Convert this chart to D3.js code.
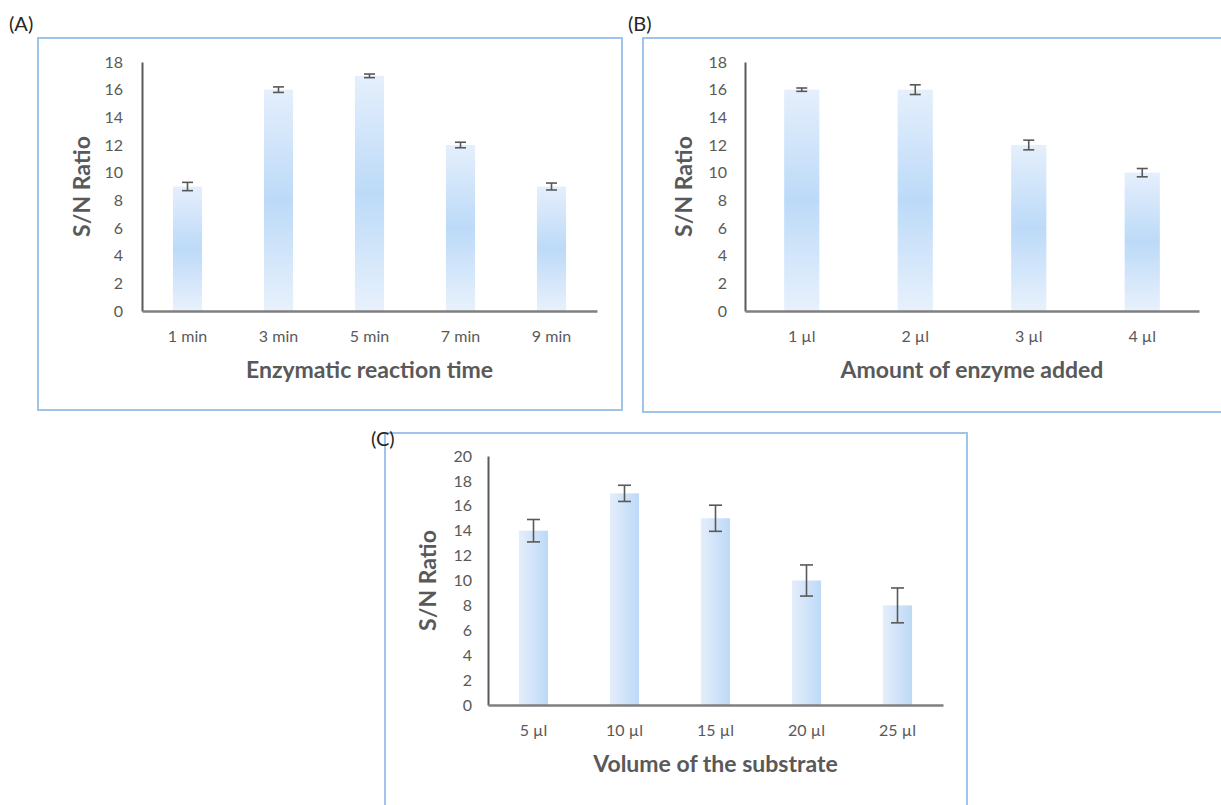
<!DOCTYPE html>
<html>
<head>
<meta charset="utf-8">
<script src="https://cdn.jsdelivr.net/npm/d3@7"></script>
<style>
  body { margin: 0; background: #fff; }
  svg { display: block; }
  .tick text { font-family: Lato, "Open Sans", sans-serif; font-size: 16px; fill: #595959; }
  .axis-title { font-family: Lato, "Open Sans", sans-serif; font-size: 23px; font-weight: bold; fill: #595959; }
  .panel-label { font-family: Lato, "Open Sans", sans-serif; font-size: 20px; fill: #262626; }
</style>
</head>
<body>
<div id="chart-area"></div>
<script>
var width = 1221,
    height = 805;

// data
var timeLabels = ["1 min", "3 min", "5 min", "7 min", "9 min"];
var timeValues = [9, 16, 17, 12, 9];
var timeErrors = [0.3, 0.2, 0.13, 0.2, 0.25];

var enzymeLabels = ["1 µl", "2 µl", "3 µl", "4 µl"];
var enzymeValues = [16, 16, 12, 10];
var enzymeErrors = [0.12, 0.35, 0.35, 0.3];

var substrateLabels = ["5 µl", "10 µl", "15 µl", "20 µl", "25 µl"];
var substrateValues = [14, 17, 15, 10, 8];
var substrateErrors = [0.9, 0.65, 1.05, 1.25, 1.4];

var ticks18 = [0, 2, 4, 6, 8, 10, 12, 14, 16, 18];
var ticks20 = [0, 2, 4, 6, 8, 10, 12, 14, 16, 18, 20];

var svg = d3.select("#chart-area").append("svg")
    .attr("width", width)
    .attr("height", height);

var defs = svg.append("defs");

// vertical gradient: light - blue - light
var gv = defs.append("linearGradient")
    .attr("id", "gradV")
    .attr("x1", 0).attr("y1", 0).attr("x2", 0).attr("y2", 1);
gv.append("stop").attr("offset", "0%").attr("stop-color", "#e5effc");
gv.append("stop").attr("offset", "50%").attr("stop-color", "#bcdaf8");
gv.append("stop").attr("offset", "100%").attr("stop-color", "#e8f1fc");

// horizontal gradient for panel C
var gh = defs.append("linearGradient")
    .attr("id", "gradH")
    .attr("x1", 0).attr("y1", 0).attr("x2", 1).attr("y2", 0);
gh.append("stop").attr("offset", "0%").attr("stop-color", "#e4eefb");
gh.append("stop").attr("offset", "100%").attr("stop-color", "#bdd9f7");

function drawPanel(p) {
  var g = svg.append("g");

  // frame
  g.append("rect")
      .attr("x", p.frame[0]).attr("y", p.frame[1])
      .attr("width", p.frame[2]).attr("height", p.frame[3])
      .attr("fill", "none")
      .attr("stroke", "#9fc4ea")
      .attr("stroke-width", 2);

  g.append("text")
      .attr("class", "panel-label")
      .attr("x", p.labelPos[0]).attr("y", p.labelPos[1])
      .text(p.label);

  var x = d3.scaleBand()
      .domain(p.labels)
      .range([p.left, p.right])
      .paddingInner(p.pad)
      .paddingOuter(p.pad / 2);

  var y = d3.scaleLinear()
      .domain([0, d3.max(p.ticks)])
      .range([p.bottom, p.top]);

  var data = p.labels.map(function(d, i) {
    return { label: d, value: p.values[i], err: p.errors[i] };
  });

  // bars
  g.selectAll(".bar")
      .data(data)
      .enter()
      .append("rect")
      .attr("class", "bar")
      .attr("x", d => x(d.label))
      .attr("width", x.bandwidth())
      .attr("y", d => y(d.value))
      .attr("height", d => y(0) - y(d.value))
      .attr("fill", p.fill);

  // error bars
  var eb = g.selectAll(".err")
      .data(data)
      .enter()
      .append("g")
      .attr("class", "err")
      .style("stroke", "#595959")
      .style("stroke-width", 1.6);
  var cx = d => x(d.label) + x.bandwidth() / 2;
  eb.append("line")
      .attr("x1", cx).attr("x2", cx)
      .attr("y1", d => y(d.value + d.err))
      .attr("y2", d => y(d.value - d.err));
  eb.append("line")
      .attr("x1", d => cx(d) - p.cap / 2).attr("x2", d => cx(d) + p.cap / 2)
      .attr("y1", d => y(d.value + d.err)).attr("y2", d => y(d.value + d.err));
  eb.append("line")
      .attr("x1", d => cx(d) - p.cap / 2).attr("x2", d => cx(d) + p.cap / 2)
      .attr("y1", d => y(d.value - d.err)).attr("y2", d => y(d.value - d.err));

  // axes
  var yAxis = g.append("g")
      .attr("transform", "translate(" + p.left + ",0)")
      .call(d3.axisLeft(y).tickValues(p.ticks).tickSize(0).tickPadding(p.yPad));
  yAxis.select(".domain").attr("stroke", "#595959").attr("stroke-width", 2);

  var xAxis = g.append("g")
      .attr("transform", "translate(0," + p.bottom + ")")
      .call(d3.axisBottom(x).tickSize(0).tickPadding(20));
  xAxis.select(".domain").attr("stroke", "#7f7f7f").attr("stroke-width", 2.5);

  // axis titles
  g.append("text")
      .attr("class", "axis-title")
      .attr("text-anchor", "middle")
      .attr("x", (p.left + p.right) / 2)
      .attr("y", p.bottom + 67)
      .text(p.xTitle);

  g.append("text")
      .attr("class", "axis-title")
      .attr("text-anchor", "middle")
      .attr("transform", "translate(" + p.yTitleX + "," + ((p.top + p.bottom) / 2) + ") rotate(-90)")
      .text("S/N Ratio");
}

drawPanel({
  label: "(A)", labelPos: [9, 31],
  frame: [38, 38, 584, 372],
  labels: timeLabels, values: timeValues, errors: timeErrors,
  ticks: ticks18, left: 142, right: 597, top: 62, bottom: 311,
  pad: 0.68, cap: 11, yPad: 19, yTitleX: 90,
  fill: "url(#gradV)", xTitle: "Enzymatic reaction time"
});

drawPanel({
  label: "(B)", labelPos: [628, 31],
  frame: [643, 38, 640, 374],
  labels: enzymeLabels, values: enzymeValues, errors: enzymeErrors,
  ticks: ticks18, left: 745, right: 1199, top: 62, bottom: 311,
  pad: 0.69, cap: 11, yPad: 18, yTitleX: 692,
  fill: "url(#gradV)", xTitle: "Amount of enzyme added"
});

drawPanel({
  label: "(C)", labelPos: [371, 446],
  frame: [385, 433, 582, 420],
  labels: substrateLabels, values: substrateValues, errors: substrateErrors,
  ticks: ticks20, left: 488, right: 943, top: 456, bottom: 705,
  pad: 0.68, cap: 13, yPad: 16, yTitleX: 436,
  fill: "url(#gradH)", xTitle: "Volume of the substrate"
});
</script>
</body>
</html>
